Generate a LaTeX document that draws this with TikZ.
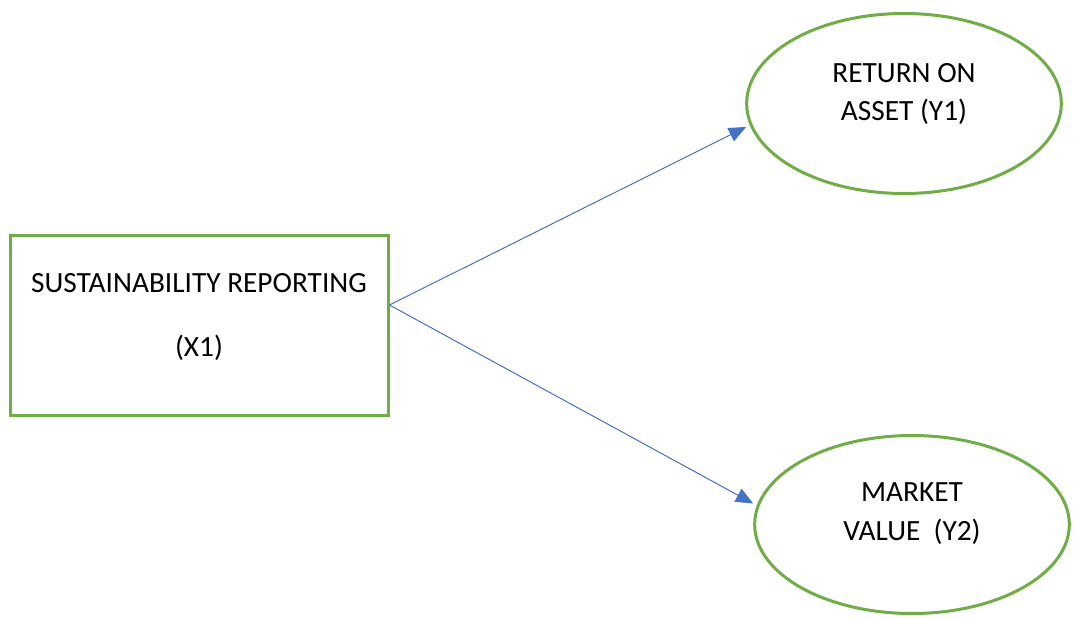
\documentclass[tikz,border=0pt]{standalone}
\usepackage{fontspec}
\setmainfont{Carlito}
\usetikzlibrary{shapes.geometric,arrows.meta}

\definecolor{boxgreen}{HTML}{70AD47}
\definecolor{linkblue}{HTML}{4472C4}

\tikzset{
  varbox/.style={draw=boxgreen,line width=2.25pt,minimum width=283.5pt,minimum height=135pt},
  latent/.style={ellipse,draw=boxgreen,line width=2.25pt,minimum width=236pt,minimum height=135pt},
  lbl/.style={align=center,font=\fontsize{22}{29}\selectfont},
  link/.style={draw=linkblue,line width=0.75pt,-{Triangle[length=13pt,width=11pt]},shorten >=3pt}
}

\begin{document}
\begin{tikzpicture}[x=0.75pt,y=-0.75pt]
\useasboundingbox (0,0) rectangle (1076,619);

\node[varbox] (x1) at (199,325) {};
\node[latent] (y1) at (904,103.5) {};
\node[latent, minimum height=133.5pt] (y2) at (912,524.5) {};

\node[lbl] (x1txt) at ([yshift=6pt]x1.center) {SUSTAINABILITY REPORTING\\[19.5pt](X1)};
\node[lbl] (y1txt) at ([yshift=7pt]y1.center) {RETURN ON\\ASSET (Y1)};
\node[lbl] (y2txt) at ([yshift=8pt]y2.center) {MARKET\\VALUE\ \ (Y2)};

\coordinate (src) at ([yshift=15pt]x1.east);
\draw[link] (src) -- (y1.188);
\draw[link] (src) -- (y2.173);
\end{tikzpicture}
\end{document}
